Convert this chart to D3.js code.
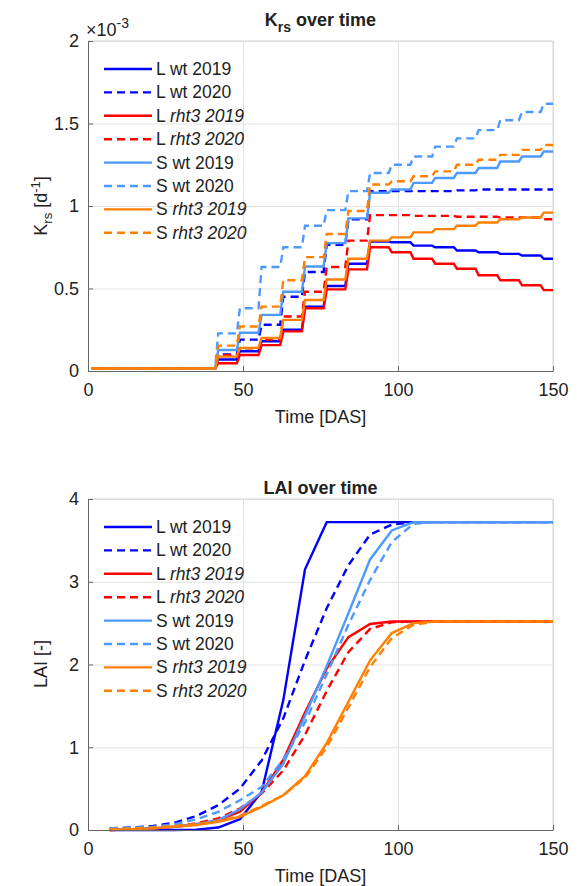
<!DOCTYPE html>
<html>
<head>
<meta charset="utf-8">
<script src="https://cdn.jsdelivr.net/npm/d3@7"></script>
<style>
body { margin: 0; background: #fff; }
text { font-family: "Liberation Sans", Arial, sans-serif; fill: #222; }
</style>
</head>
<body>
<script>
const width = 581, height = 886;

// legend / series
const seriesPlot = ["L", "L", "L", "L", "S", "S", "S", "S"];
const seriesGeno = ["wt", "wt", "rht3", "rht3", "wt", "wt", "rht3", "rht3"];
const seriesYear = ["2019", "2020", "2019", "2020", "2019", "2020", "2019", "2020"];
const seriesColor = ["#0000ff", "#0000ff", "#ff0000", "#ff0000", "#4d9aff", "#4d9aff", "#ff7f00", "#ff7f00"];

// K_rs (x 1e-3 d^-1): constant before first step, then one value per week
const krsBase = 0.015;
const krsWeeks = [42, 49, 56, 63, 70, 77, 84, 91, 98, 105, 112, 119, 126, 133, 140, 147];
const krsLwt19   = [0.07, 0.12, 0.18, 0.25, 0.39, 0.515, 0.65, 0.785, 0.78, 0.76, 0.75, 0.73, 0.72, 0.71, 0.70, 0.68];
const krsLwt20   = [0.10, 0.19, 0.28, 0.45, 0.60, 0.765, 0.92, 1.09, 1.09, 1.09, 1.09, 1.095, 1.10, 1.10, 1.10, 1.10];
const krsLrht19  = [0.047, 0.097, 0.157, 0.24, 0.38, 0.495, 0.616, 0.75, 0.72, 0.68, 0.65, 0.62, 0.58, 0.55, 0.52, 0.49];
const krsLrht20  = [0.097, 0.138, 0.19, 0.33, 0.48, 0.63, 0.79, 0.945, 0.945, 0.94, 0.94, 0.935, 0.935, 0.93, 0.93, 0.92];
const krsSwt19   = [0.127, 0.232, 0.34, 0.48, 0.633, 0.775, 0.925, 1.08, 1.10, 1.14, 1.17, 1.20, 1.23, 1.27, 1.30, 1.33];
const krsSwt20   = [0.228, 0.38, 0.63, 0.75, 0.88, 0.975, 1.09, 1.20, 1.25, 1.30, 1.36, 1.41, 1.46, 1.52, 1.57, 1.62];
const krsSrht19  = [0.087, 0.14, 0.20, 0.31, 0.43, 0.555, 0.68, 0.79, 0.81, 0.84, 0.86, 0.88, 0.90, 0.92, 0.93, 0.96];
const krsSrht20  = [0.154, 0.27, 0.39, 0.55, 0.69, 0.83, 0.97, 1.13, 1.15, 1.18, 1.21, 1.25, 1.28, 1.31, 1.34, 1.37];
const krsValues = [krsLwt19, krsLwt20, krsLrht19, krsLrht20, krsSwt19, krsSwt20, krsSrht19, krsSrht20];

// LAI
const laiDays = [7, 14, 21, 28, 35, 42, 49, 56, 63, 70, 77, 84, 91, 98, 105, 112, 150];
const laiLwt19  = [0.0, 0.0, 0.0, 0.0, 0.005, 0.03, 0.13, 0.46, 1.57, 3.15, 3.72, 3.72, 3.72, 3.72, 3.72, 3.72, 3.72];
const laiLwt20  = [0.02, 0.03, 0.05, 0.09, 0.17, 0.30, 0.50, 0.84, 1.35, 2.05, 2.68, 3.20, 3.57, 3.69, 3.72, 3.72, 3.72];
const laiLrht19 = [0.0, 0.01, 0.02, 0.04, 0.07, 0.12, 0.22, 0.45, 0.85, 1.42, 1.95, 2.33, 2.49, 2.52, 2.52, 2.52, 2.52];
const laiLrht20 = [0.0, 0.01, 0.02, 0.04, 0.08, 0.14, 0.26, 0.44, 0.72, 1.15, 1.68, 2.15, 2.43, 2.51, 2.52, 2.52, 2.52];
const laiSwt19  = [0.0, 0.01, 0.02, 0.04, 0.07, 0.12, 0.25, 0.45, 0.80, 1.38, 1.98, 2.62, 3.27, 3.62, 3.72, 3.72, 3.72];
const laiSwt20  = [0.02, 0.03, 0.04, 0.07, 0.13, 0.22, 0.36, 0.52, 0.85, 1.30, 1.88, 2.48, 3.02, 3.48, 3.70, 3.72, 3.72];
const laiSrht19 = [0.0, 0.01, 0.02, 0.04, 0.06, 0.10, 0.16, 0.28, 0.42, 0.65, 1.05, 1.55, 2.05, 2.38, 2.50, 2.52, 2.52];
const laiSrht20 = [0.01, 0.02, 0.03, 0.05, 0.07, 0.11, 0.17, 0.29, 0.42, 0.63, 1.00, 1.48, 1.97, 2.32, 2.48, 2.52, 2.52];
const laiValues = [laiLwt19, laiLwt20, laiLrht19, laiLrht20, laiSwt19, laiSwt20, laiSrht19, laiSrht20];

const xTicks = [0, 50, 100, 150];
const krsTicks = [0, 0.5, 1, 1.5, 2];
const laiTicks = [0, 1, 2, 3, 4];

const margin = { left: 88, right: 28 };

let svg = d3.select("body").append("svg")
  .attr("width", width)
  .attr("height", height);

// K_rs is constant within each week: expand to daily points
let krsDays = d3.range(1, 151);
function krsDaily(vals) {
  return krsDays.map(d => [d, d < krsWeeks[0] ? krsBase : vals[d3.bisectRight(krsWeeks, d) - 1]]);
}

function panel(top, bottom, yDomain, yTicks, lines) {
  let x = d3.scaleLinear().domain([0, 150]).range([margin.left, width - margin.right]);
  let y = d3.scaleLinear().domain(yDomain).range([bottom, top]);
  let g = svg.append("g");

  // grid
  g.append("g").attr("transform", `translate(0,${bottom})`)
    .call(d3.axisBottom(x).tickValues(xTicks).tickSize(-(bottom - top)).tickFormat(""))
    .call(a => a.select(".domain").remove())
    .selectAll("line").attr("stroke", "#e2e2e2");
  g.append("g").attr("transform", `translate(${margin.left},0)`)
    .call(d3.axisLeft(y).tickValues(yTicks).tickSize(-(x.range()[1] - margin.left)).tickFormat(""))
    .call(a => a.select(".domain").remove())
    .selectAll("line").attr("stroke", "#e2e2e2");

  // box top/right
  g.append("path")
    .attr("d", `M${margin.left},${top}H${x.range()[1]}V${bottom}`)
    .attr("fill", "none").attr("stroke", "#d6d6d6");

  // series
  let line = d3.line().x(d => x(d[0])).y(d => y(d[1]));
  lines.forEach((pts, i) => {
    g.append("path")
      .datum(pts)
      .attr("d", line)
      .attr("fill", "none")
      .attr("stroke", seriesColor[i])
      .attr("stroke-width", 2.4)
      .attr("stroke-dasharray", i % 2 ? "8,5" : null);
  });

  // axes, ticks inward
  let fmt = d3.format("~g");
  let ax = g.append("g").attr("transform", `translate(0,${bottom})`)
    .call(d3.axisBottom(x).tickValues(xTicks).tickFormat(fmt).tickSize(-5).tickPadding(12).tickSizeOuter(0));
  let ay = g.append("g").attr("transform", `translate(${margin.left},0)`)
    .call(d3.axisLeft(y).tickValues(yTicks).tickFormat(fmt).tickSize(-5).tickPadding(9).tickSizeOuter(0));
  [ax, ay].forEach(a => {
    a.select(".domain").attr("stroke", "#666");
    a.selectAll(".tick line").attr("stroke", "#666");
    a.selectAll("text").attr("font-size", 18).attr("fill", "#222")
      .attr("font-family", "Liberation Sans, Arial, sans-serif");
  });

  // legend
  seriesPlot.forEach((p, i) => {
    let ly = top + 28 + i * 23.4;
    g.append("line")
      .attr("x1", 104).attr("x2", 152).attr("y1", ly).attr("y2", ly)
      .attr("stroke", seriesColor[i]).attr("stroke-width", 2.4)
      .attr("stroke-dasharray", i % 2 ? "8,5" : null);
    let t = g.append("text").attr("x", 156).attr("y", ly + 6).attr("font-size", 17.5);
    t.append("tspan").text(p + " ");
    if (seriesGeno[i] == "wt") t.append("tspan").text("wt " + seriesYear[i]);
    else t.append("tspan").attr("font-style", "italic").text(seriesGeno[i] + " " + seriesYear[i]);
  });

  // x label
  g.append("text")
    .attr("x", (margin.left + x.range()[1]) / 2).attr("y", bottom + 52)
    .attr("text-anchor", "middle").attr("font-size", 18)
    .text("Time [DAS]");

  return { g, x, y };
}

// top: K_rs
let p1 = panel(41, 371, [0, 2], krsTicks, krsValues.map(krsDaily));
let t1 = svg.append("text").attr("x", 320.5).attr("y", 26)
  .attr("text-anchor", "middle").attr("font-size", 18).attr("font-weight", "bold");
t1.append("tspan").text("K");
t1.append("tspan").attr("dy", 6).attr("font-size", 14).text("rs");
t1.append("tspan").attr("dy", -6).text(" over time");

let e1 = svg.append("text").attr("x", 86).attr("y", 36).attr("font-size", 18);
e1.append("tspan").text("\u00d710");
e1.append("tspan").attr("dy", -8).attr("font-size", 14).text("-3");

let yl1 = svg.append("text").attr("transform", "translate(47,206) rotate(-90)")
  .attr("text-anchor", "middle").attr("font-size", 18);
yl1.append("tspan").text("K");
yl1.append("tspan").attr("dy", 5).attr("font-size", 13).text("rs");
yl1.append("tspan").attr("dy", -5).text(" [d");
yl1.append("tspan").attr("dy", -7).attr("font-size", 13).text("-1");
yl1.append("tspan").attr("dy", 7).text("]");

// bottom: LAI
let p2 = panel(499, 830, [0, 4], laiTicks, laiValues.map(v => laiDays.map((d, i) => [d, v[i]])));
svg.append("text").attr("x", 320.5).attr("y", 494)
  .attr("text-anchor", "middle").attr("font-size", 18).attr("font-weight", "bold")
  .text("LAI over time");
svg.append("text").attr("transform", "translate(47,664) rotate(-90)")
  .attr("text-anchor", "middle").attr("font-size", 18)
  .text("LAI [-]");
</script>
</body>
</html>
